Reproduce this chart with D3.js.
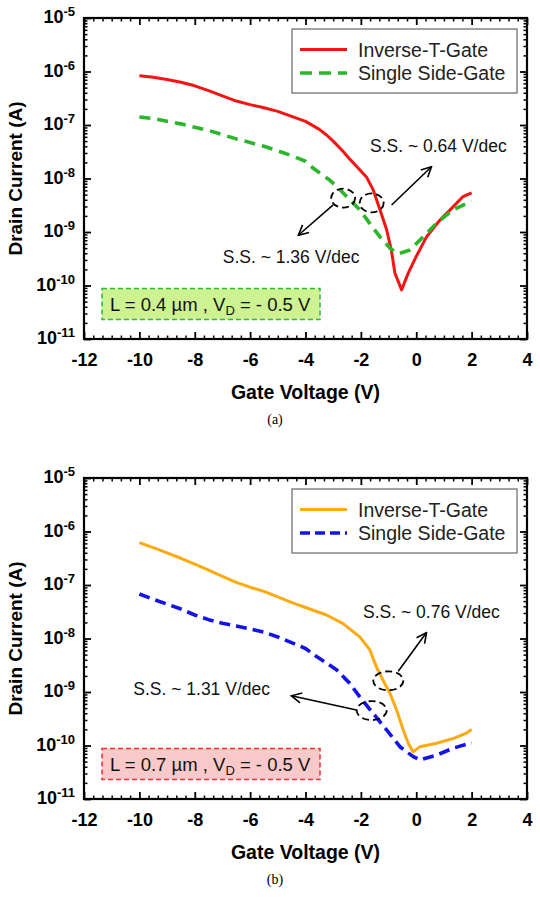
<!DOCTYPE html>
<html>
<head>
<meta charset="utf-8">
<script src="https://cdn.jsdelivr.net/npm/d3@7"></script>
<style>
  html, body { margin: 0; padding: 0; background: #fff; }
  svg { display: block; }
  text { font-family: Arial, "Liberation Sans", sans-serif; }
</style>
</head>
<body>
<svg id="chart" width="540" height="898"></svg>
<script>
// ---------- DATA ----------
const xTicks = [-12, -10, -8, -6, -4, -2, 0, 2, 4];
const yTickExps = [-5, -6, -7, -8, -9, -10, -11];
const legendLabels = ["Inverse-T-Gate", "Single Side-Gate"];

// (a) L = 0.4 um
const vRedA = [-10, -9.5, -9, -8.5, -8, -7.5, -7, -6.5, -6, -5.5, -5, -4.5, -4, -3.5, -3.24, -3, -2.64, -2.4, -2.16, -1.8, -1.56, -1.31, -1.07, -0.9, -0.77, -0.53, -0.29, 0, 0.37, 0.85, 1.33, 1.69, 2.0];
const iRedA = [8.3e-7, 7.8e-7, 7.1e-7, 6.3e-7, 5.4e-7, 4.4e-7, 3.5e-7, 2.8e-7, 2.4e-7, 2.1e-7, 1.8e-7, 1.45e-7, 1.17e-7, 8.3e-8, 6.5e-8, 5.0e-8, 3.2e-8, 2.3e-8, 1.7e-8, 1.07e-8, 6.2e-9, 2.6e-9, 1.1e-9, 4.6e-10, 1.7e-10, 8.3e-11, 1.7e-10, 3.5e-10, 8.1e-10, 1.66e-9, 2.95e-9, 4.6e-9, 5.4e-9];
const vGreenA = [-10, -9.5, -9, -8.5, -8, -7.5, -7, -6.5, -6, -5.5, -5, -4.44, -4, -3.72, -3.12, -2.76, -2.4, -2.04, -1.68, -1.31, -0.95, -0.65, -0.23, 0.25, 0.73, 1.33, 2.0];
const iGreenA = [1.41e-7, 1.32e-7, 1.17e-7, 1.05e-7, 9.1e-8, 7.9e-8, 6.6e-8, 5.5e-8, 4.7e-8, 4.0e-8, 3.3e-8, 2.6e-8, 2.1e-8, 1.55e-8, 9.3e-9, 6.2e-9, 4.0e-9, 2.6e-9, 1.45e-9, 8.1e-10, 5.0e-10, 3.9e-10, 4.6e-10, 8.1e-10, 1.45e-9, 2.6e-9, 3.8e-9];

// (b) L = 0.7 um
const vOrangeB = [-10, -9.5, -9, -8.5, -8, -7.5, -7, -6.5, -6, -5.5, -5, -4.44, -4, -3.24, -2.64, -2.04, -1.68, -1.44, -1.2, -0.95, -0.71, -0.47, -0.29, -0.11, 0.13, 0.73, 1.33, 1.81, 2.0];
const iOrangeB = [6.2e-7, 5.0e-7, 4.0e-7, 3.16e-7, 2.45e-7, 1.9e-7, 1.45e-7, 1.12e-7, 9.1e-8, 7.6e-8, 6.0e-8, 4.6e-8, 3.8e-8, 2.75e-8, 1.9e-8, 1.07e-8, 6.2e-9, 2.95e-9, 1.66e-9, 9.5e-10, 4.6e-10, 1.95e-10, 1.1e-10, 7.6e-11, 9.5e-11, 1.1e-10, 1.35e-10, 1.7e-10, 2.0e-10];
const vBlueB = [-10, -9.5, -9, -8.5, -8, -7.5, -7, -6.5, -6, -5.5, -5, -4.44, -4, -3.6, -2.88, -2.4, -2.04, -1.56, -1.07, -0.59, -0.11, 0.13, 0.73, 1.33, 2.0];
const iBlueB = [6.8e-8, 5.4e-8, 4.4e-8, 3.55e-8, 2.75e-8, 2.25e-8, 1.92e-8, 1.72e-8, 1.5e-8, 1.32e-8, 1.07e-8, 8.1e-9, 6.5e-9, 4.6e-9, 2.6e-9, 1.45e-9, 8.1e-10, 4.0e-10, 1.95e-10, 9.5e-11, 6.2e-11, 5.4e-11, 6.6e-11, 8.9e-11, 1.12e-10];

// annotations (data units: [V, I])
const annA = {
  ellipses: [[-2.64, 4.3e-9], [-1.61, 3.5e-9]],
  arrows: [[[-3.0, 3.2e-9], [-4.26, 8.7e-10]], [[-0.89, 3.2e-9], [0.55, 1.66e-8]]],
  texts: [["S.S. ~ 0.64 V/dec", -1.67, 3.16e-8], ["S.S. ~ 1.36 V/dec", -6.99, 2.6e-10]]
};
const annB = {
  ellipses: [[-1.01, 1.62e-9], [-1.61, 4.5e-10]],
  arrows: [[[-0.65, 2.45e-9], [0.37, 1.29e-8]], [[-2.16, 4.6e-10], [-4.51, 8.5e-10]]],
  texts: [["S.S. ~ 0.76 V/dec", -1.92, 2.4e-8], ["S.S. ~ 1.31 V/dec", -10.22, 8.7e-10]]
};

// ---------- DRAW ----------
const svg = d3.select("#chart");
const W = 443, H = 321;

svg.append("defs").append("marker")
  .attr("id", "arr").attr("viewBox", "0 0 12 12").attr("refX", 11).attr("refY", 6)
  .attr("markerWidth", 12).attr("markerHeight", 12).attr("markerUnits", "userSpaceOnUse")
  .attr("orient", "auto")
  .append("path").attr("d", "M1,1 L11,6 L1,11").attr("fill", "none")
  .attr("stroke", "#000").attr("stroke-width", 1.6);

function drawChart(cfg) {
  const g = svg.append("g").attr("transform", `translate(84,${cfg.top})`);
  const x = d3.scaleLinear().domain([-12, 4]).range([0, W]);
  const y = d3.scaleLog().domain([1e-11, 1e-5]).range([H, 0]);

  const xMinor = d3.range(-12, 4.001, 1 / 3).filter(v => Math.abs(v / 2 - Math.round(v / 2)) > 1e-6);
  const yMinor = [];
  for (let e = -11; e < -5; e++) for (let m = 2; m <= 9; m++) yMinor.push(m * Math.pow(10, e));
  const yMajor = yTickExps.map(e => Math.pow(10, e));

  // minor ticks (inward, all sides)
  const minorAxes = [
    [d3.axisBottom(x).tickValues(xMinor), `translate(0,${H})`],
    [d3.axisTop(x).tickValues(xMinor), `translate(0,0)`],
    [d3.axisLeft(y).tickValues(yMinor), `translate(0,0)`],
    [d3.axisRight(y).tickValues(yMinor), `translate(${W},0)`]
  ];
  minorAxes.forEach(([ax, tr]) => {
    const a = g.append("g").attr("transform", tr)
      .call(ax.tickSize(-3.5).tickFormat(() => ""));
    a.select(".domain").remove();
    a.selectAll("line").attr("stroke", "#000").attr("stroke-width", 1.5);
  });

  // major ticks
  const xb = g.append("g").attr("transform", `translate(0,${H})`)
    .call(d3.axisBottom(x).tickValues(xTicks).tickSize(-7).tickPadding(14).tickFormat(d => d));
  xb.selectAll("text").attr("font-size", "18px").attr("font-weight", "bold").attr("fill", "#000")
    .style("font-family", "Arial, 'Liberation Sans', sans-serif");
  const xt = g.append("g").call(d3.axisTop(x).tickValues(xTicks).tickSize(-7).tickFormat(() => ""));
  const yl = g.append("g")
    .call(d3.axisLeft(y).tickValues(yMajor).tickSize(-7).tickPadding(9).tickFormat(() => ""));
  yl.selectAll(".tick text").each(function (d) {
    const t = d3.select(this);
    t.attr("dy", "0.45em").attr("font-weight", "bold").attr("fill", "#000")
      .style("font-family", "Arial, 'Liberation Sans', sans-serif");
    t.append("tspan").attr("font-size", "18px").text("10");
    t.append("tspan").attr("font-size", "13px").attr("dy", "-7").text(Math.round(Math.log10(d)));
  });
  const yr = g.append("g").attr("transform", `translate(${W},0)`)
    .call(d3.axisRight(y).tickValues(yMajor).tickSize(-7).tickFormat(() => ""));
  [xb, xt, yl, yr].forEach(a => {
    a.select(".domain").remove();
    a.selectAll("line").attr("stroke", "#000").attr("stroke-width", 1.8);
  });

  // frame
  g.append("rect").attr("x", 0).attr("y", 0).attr("width", W).attr("height", H)
    .attr("fill", "none").attr("stroke", "#000").attr("stroke-width", 2.2);

  // axis titles
  g.append("text").attr("x", (x(-12) + x(4)) / 2 - 0).attr("y", H + 60)
    .attr("text-anchor", "middle").attr("font-size", "19.5px").attr("font-weight", "bold")
    .text("Gate Voltage (V)");
  g.append("text").attr("transform", `translate(-62,${H / 2}) rotate(-90)`)
    .attr("text-anchor", "middle").attr("font-size", "19px").attr("font-weight", "bold")
    .text("Drain Current (A)");
  g.append("text").attr("x", 275 - 84).attr("y", H + 85).attr("text-anchor", "middle")
    .attr("font-size", "14px").style("font-family", "'Liberation Serif', 'Times New Roman', serif")
    .text(cfg.caption);

  // info box
  const box = g.append("g");
  box.append("rect").attr("x", 18).attr("y", H - 50.5).attr("width", 218).attr("height", 31)
    .attr("fill", cfg.boxFill).attr("stroke", cfg.boxStroke).attr("stroke-width", 1.5)
    .attr("stroke-dasharray", "5,3");
  const bt = box.append("text").attr("x", 26).attr("y", H - 28.5).attr("font-size", "18.5px").attr("fill", "#111");
  bt.append("tspan").text(cfg.boxText1);
  bt.append("tspan").attr("font-size", "13px").attr("dy", 4).text("D");
  bt.append("tspan").attr("dy", -4).text(" = - 0.5 V");

  // series
  const line = d3.line().x(d => x(d[0])).y(d => y(d[1]));
  cfg.series.forEach(s => {
    g.append("path").datum(d3.zip(s.v, s.i)).attr("d", line)
      .attr("fill", "none").attr("stroke", s.color).attr("stroke-width", s.width)
      .attr("stroke-linejoin", "round")
      .attr("stroke-dasharray", s.dash || null);
  });

  // annotations
  const ann = cfg.ann;
  ann.ellipses.forEach(e => {
    g.append("ellipse").attr("cx", x(e[0])).attr("cy", y(e[1])).attr("rx", cfg.rx).attr("ry", 9.5)
      .attr("fill", "none").attr("stroke", "#000").attr("stroke-width", 1.8).attr("stroke-dasharray", "7,4");
  });
  ann.arrows.forEach(a => {
    g.append("line").attr("x1", x(a[0][0])).attr("y1", y(a[0][1]))
      .attr("x2", x(a[1][0])).attr("y2", y(a[1][1]))
      .attr("stroke", "#000").attr("stroke-width", 1.6).attr("marker-end", "url(#arr)");
  });
  ann.texts.forEach(t => {
    g.append("text").attr("x", x(t[1])).attr("y", y(t[2])).attr("font-size", "17.5px").attr("fill", "#111")
      .text(t[0]);
  });

  // legend
  const lg = g.append("g").attr("transform", `translate(${292 - 84},${29 - 18})`);
  lg.append("rect").attr("width", 225).attr("height", 64).attr("fill", "#fff")
    .attr("stroke", "#666").attr("stroke-width", 1.2);
  cfg.series.forEach((s, k) => {
    const yy = 20.5 + k * 23.5;
    lg.append("line").attr("x1", 8).attr("x2", 55).attr("y1", yy).attr("y2", yy)
      .attr("stroke", s.color).attr("stroke-width", s.width).attr("stroke-dasharray", s.legendDash || null);
    lg.append("text").attr("x", 66).attr("y", yy + 7).attr("font-size", "19.5px").attr("fill", "#222")
      .text(legendLabels[k]);
  });
}

drawChart({
  top: 18, caption: "(a)",
  boxFill: "#cdf291", boxStroke: "#33b633", boxText1: "L = 0.4 \u00b5m , V",
  rx: 12,
  series: [
    { v: vRedA, i: iRedA, color: "#f41414", width: 3 },
    { v: vGreenA, i: iGreenA, color: "#2ab52a", width: 3.6, dash: "11,7", legendDash: "12,7" }
  ],
  ann: annA
});
drawChart({
  top: 478, caption: "(b)",
  boxFill: "#f9c9c9", boxStroke: "#e83030", boxText1: "L = 0.7 \u00b5m , V",
  rx: 15,
  series: [
    { v: vOrangeB, i: iOrangeB, color: "#fbaa12", width: 3 },
    { v: vBlueB, i: iBlueB, color: "#1414e6", width: 3.6, dash: "11,6", legendDash: "10,5" }
  ],
  ann: annB
});
</script>
</body>
</html>
